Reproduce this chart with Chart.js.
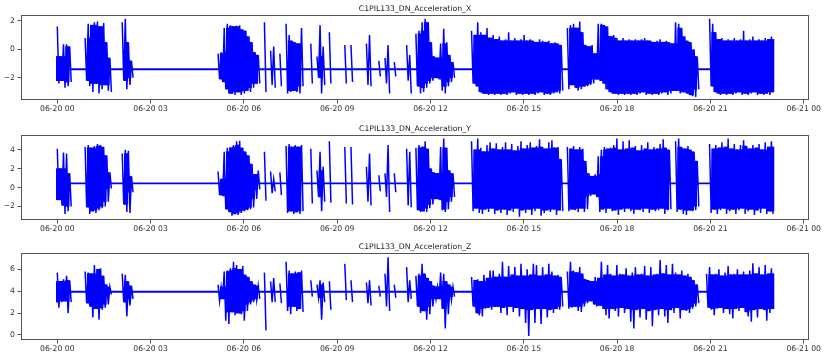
<!DOCTYPE html>
<html><head><meta charset="utf-8">
<script src="https://cdn.jsdelivr.net/npm/chart.js@4/dist/chart.umd.min.js"></script>
<style>
html,body{margin:0;padding:0;background:#fff;}
#wrap{position:relative;width:830px;height:358px;overflow:hidden;background:#fff;}
canvas{position:absolute;left:0;}
</style></head><body>
<div id="wrap">
<canvas id="c0" width="830" height="120" style="top:0px"></canvas>
<canvas id="c1" width="830" height="120" style="top:120px"></canvas>
<canvas id="c2" width="830" height="120" style="top:238px"></canvas>
</div>
<script>
// ---- data (hours after 06-20 00:00; each bin holds the high and low of the trace) ----
const titles = ["C1PIL133_DN_Acceleration_X", "C1PIL133_DN_Acceleration_Y", "C1PIL133_DN_Acceleration_Z"];
const tickHours = [0, 3, 6, 9, 12, 15, 18, 21, 24];
const tickLabels = ["06-20 00", "06-20 03", "06-20 06", "06-20 09", "06-20 12", "06-20 15", "06-20 18", "06-20 21", "06-21 00"];
const startHour = 0;
const binHours = 0.0994;
// resting level of each trace between bursts
const restLevels = [-1.4, 0.45, 3.95];

const xHi = [
 1.6,-0.5,0.35,0.35,0.2,-1.4,-1.4,-1.4,-1.4,0.8,
 1.8,1.7,1.9,1.95,1.6,1.85,0.5,-0.6,-1.4,-1.4,
 -1.4,1.9,2.15,0.5,-0.8,-1.4,-1.4,-1.4,-1.4,-1.4,
 -1.4,-1.4,-1.4,-1.4,-1.4,-1.4,-1.4,-1.4,-1.4,-1.4,
 -1.4,-1.4,-1.4,-1.4,-1.4,-1.4,-1.4,-1.4,-1.4,-1.4,
 -1.4,-1.4,-0.3,-0.2,1.5,1.8,1.7,1.6,1.65,1.7,
 1.4,1.3,0.9,0.5,-0.2,-0.4,-1.4,1.9,-1.4,-0.1,
 0.2,-1.4,-0.3,-1.4,1.8,1.0,0.6,0.5,0.4,1.5,
 -1.4,-1.4,0.4,-1.4,-0.5,1.7,0.2,-1.4,1.2,-1.4,
 -1.4,-1.4,-1.4,0.3,-1.4,0.3,-1.4,-1.4,-1.4,-1.4,
 0.4,1.0,-1.4,-1.4,-0.8,-1.4,-0.6,0.3,-1.4,-0.9,
 -1.4,-1.4,-1.4,0.3,-0.4,-1.4,1.1,1.3,1.9,2.15,
 1.9,0.5,-0.5,-0.6,0.4,1.45,0.5,-0.4,-0.9,-1.4,
 -1.4,-1.4,-1.4,-1.4,1.3,1.0,1.9,1.2,1.0,1.5,
 0.8,1.0,0.7,0.9,0.6,0.7,1.2,0.6,0.8,0.6,
 0.7,1.0,0.6,0.7,0.6,0.5,0.7,0.6,0.5,0.6,
 0.4,0.5,0.4,0.3,-1.4,1.5,1.7,1.8,1.5,1.95,
 1.2,0.3,0.2,0.3,-0.3,1.8,1.8,1.7,1.6,0.9,
 1.0,0.8,0.6,0.8,0.6,0.7,0.6,0.7,0.6,0.7,
 0.8,0.6,0.6,0.5,0.6,0.7,0.5,0.6,0.5,0.4,
 1.9,1.8,1.5,0.9,0.6,0.5,0.0,-0.5,-1.4,-1.4,
 -1.4,2.15,1.8,1.2,0.7,0.8,0.6,0.7,0.6,0.8,
 0.6,0.7,1.3,0.6,0.7,0.9,0.6,0.7,0.6,0.8,
 0.7,0.9
];
const xLo = [
 -2.4,-2.2,-2.7,-2.6,-2.3,-1.4,-1.4,-1.4,-1.4,-2.2,
 -2.6,-3.0,-2.4,-3.1,-2.8,-2.5,-2.9,-3.0,-1.4,-1.4,
 -1.4,-2.2,-2.8,-2.5,-2.0,-1.4,-1.4,-1.4,-1.4,-1.4,
 -1.4,-1.4,-1.4,-1.4,-1.4,-1.4,-1.4,-1.4,-1.4,-1.4,
 -1.4,-1.4,-1.4,-1.4,-1.4,-1.4,-1.4,-1.4,-1.4,-1.4,
 -1.4,-1.4,-2.1,-2.3,-2.8,-3.1,-3.1,-3.2,-3.0,-3.2,
 -3.1,-2.9,-3.0,-2.7,-2.4,-2.4,-1.4,-3.0,-1.4,-2.5,
 -2.7,-1.4,-2.6,-1.4,-3.1,-3.0,-2.9,-3.0,-3.1,-2.6,
 -1.4,-1.4,-2.4,-1.4,-2.0,-3.1,-2.5,-1.4,-2.4,-1.4,
 -1.4,-1.4,-1.4,-2.4,-1.4,-2.3,-1.4,-1.4,-1.4,-1.4,
 -2.5,-2.6,-1.4,-1.4,-1.9,-1.4,-2.4,-3.1,-1.4,-1.9,
 -1.4,-1.4,-1.4,-2.2,-3.1,-1.4,-2.6,-3.1,-3.0,-2.7,
 -2.4,-2.2,-2.0,-2.1,-2.9,-3.1,-2.6,-2.3,-2.0,-1.4,
 -1.4,-1.4,-1.4,-1.4,-2.4,-2.6,-3.0,-3.1,-3.1,-3.2,
 -3.1,-3.2,-3.1,-3.2,-3.1,-3.2,-3.1,-3.0,-3.2,-3.1,
 -3.2,-3.1,-3.2,-3.1,-3.2,-3.1,-3.0,-3.2,-3.1,-3.2,
 -3.1,-3.0,-3.1,-2.9,-1.4,-2.8,-2.5,-2.7,-2.9,-2.8,
 -2.6,-2.6,-2.5,-2.4,-2.1,-2.2,-2.4,-2.8,-3.0,-3.1,
 -3.1,-3.2,-3.1,-3.2,-3.1,-3.2,-3.1,-3.2,-3.1,-3.0,
 -3.2,-3.1,-3.2,-3.1,-3.2,-3.1,-3.0,-3.2,-3.1,-2.9,
 -2.9,-3.1,-3.0,-3.1,-3.2,-3.3,-3.35,-2.8,-1.4,-1.4,
 -1.4,-2.6,-3.0,-3.1,-3.2,-3.1,-3.2,-3.1,-3.2,-3.1,
 -3.0,-3.2,-3.1,-3.2,-3.1,-3.0,-3.2,-3.1,-3.2,-3.1,
 -3.2,-3.0
];

const yHi = [
 4.1,2.0,3.7,3.6,1.5,0.45,0.45,0.45,0.45,4.3,
 4.5,4.2,4.4,4.6,4.5,4.3,3.4,1.6,0.45,0.45,
 0.45,3.6,4.0,3.9,1.2,0.45,0.45,0.45,0.45,0.45,
 0.45,0.45,0.45,0.45,0.45,0.45,0.45,0.45,0.45,0.45,
 0.45,0.45,0.45,0.45,0.45,0.45,0.45,0.45,0.45,0.45,
 0.45,0.45,1.7,0.9,3.8,4.2,4.3,4.5,4.9,4.95,
 4.2,3.8,3.4,2.5,1.4,1.8,0.45,3.8,0.45,1.7,
 0.9,0.45,1.6,0.45,4.4,4.6,4.3,4.5,4.3,4.5,
 0.45,0.45,4.1,0.45,1.8,3.8,2.2,0.45,4.9,0.45,
 0.45,0.45,0.45,4.3,0.45,4.3,0.45,0.45,0.45,0.45,
 2.2,3.6,0.45,0.45,1.3,0.45,1.5,4.5,0.45,1.5,
 0.45,0.45,0.45,4.1,3.8,0.45,4.2,4.5,4.3,4.9,
 4.1,2.0,1.6,1.5,4.3,5.2,4.2,1.8,1.5,0.45,
 0.45,0.45,0.45,0.45,4.9,4.0,5.2,4.2,3.8,4.5,
 4.8,4.1,4.7,4.0,4.3,4.8,4.0,4.6,3.9,4.4,
 4.9,4.1,4.5,4.8,4.2,4.4,5.1,4.3,4.1,4.8,
 5.0,4.2,4.3,3.0,0.45,4.3,4.1,4.4,4.0,4.3,
 4.1,2.8,1.5,1.2,1.4,3.3,4.0,4.3,4.1,4.2,
 4.5,5.2,4.0,4.9,4.1,5.0,4.2,4.4,3.9,4.5,
 4.1,4.8,4.0,4.3,4.1,4.6,5.1,4.2,4.0,0.45,
 4.9,5.2,4.3,4.1,4.4,4.0,3.8,2.8,0.45,0.45,
 0.45,4.6,4.1,4.5,4.2,4.8,4.3,5.2,4.1,4.6,
 4.0,4.5,5.0,4.4,4.1,4.5,4.2,4.6,4.0,4.8,
 4.3,4.9
];
const yLo = [
 -1.3,-1.9,-2.8,-2.5,-2.0,0.45,0.45,0.45,0.45,-2.1,
 -2.8,-2.5,-2.7,-2.4,-2.2,-2.0,-1.5,-0.1,0.45,0.45,
 0.45,-1.8,-2.6,-2.7,-0.5,0.45,0.45,0.45,0.45,0.45,
 0.45,0.45,0.45,0.45,0.45,0.45,0.45,0.45,0.45,0.45,
 0.45,0.45,0.45,0.45,0.45,0.45,0.45,0.45,0.45,0.45,
 0.45,0.45,-0.8,-0.9,-2.3,-2.6,-3.0,-2.8,-2.9,-2.7,
 -2.5,-2.4,-2.3,-2.1,-1.2,-0.2,0.45,-1.4,0.45,-0.6,
 -0.4,0.45,-0.8,0.45,-2.7,-2.5,-2.8,-2.6,-2.8,-2.5,
 0.45,0.45,-1.7,0.45,-1.0,-2.5,-1.5,0.45,-1.6,0.45,
 0.45,0.45,0.45,-1.7,0.45,-1.8,0.45,0.45,0.45,0.45,
 -1.5,-1.9,0.45,0.45,-0.4,0.45,-1.0,-2.6,0.45,-0.5,
 0.45,0.45,0.45,-1.9,-2.1,0.45,-2.4,-2.6,-2.5,-2.6,
 -2.2,-1.8,-1.2,-1.3,-2.4,-2.6,-2.3,-1.5,-1.0,0.45,
 0.45,0.45,0.45,0.45,-2.5,-2.2,-2.7,-2.8,-2.3,-2.6,
 -2.2,-2.8,-2.4,-2.7,-2.3,-2.9,-2.4,-2.6,-2.2,-3.1,
 -2.4,-2.7,-2.3,-2.9,-2.5,-2.2,-3.0,-2.7,-2.4,-2.6,
 -2.3,-2.9,-2.4,-2.5,0.45,-2.5,-2.3,-2.4,-2.6,-2.2,
 -2.6,-2.3,-0.9,-0.7,-1.0,-2.6,-2.3,-2.7,-2.2,-2.5,
 -2.4,-2.9,-2.3,-2.6,-2.2,-2.5,-2.8,-2.3,-2.4,-2.6,
 -2.2,-2.7,-2.3,-2.5,-2.4,-2.2,-2.8,-2.4,-2.3,0.45,
 -2.6,-2.3,-2.8,-2.9,-2.4,-2.5,-2.4,-2.0,0.45,0.45,
 0.45,-2.7,-2.3,-2.8,-2.4,-2.2,-2.8,-2.5,-2.3,-2.8,
 -2.4,-2.2,-2.8,-2.5,-2.3,-2.9,-2.4,-2.7,-2.2,-2.8,
 -2.5,-2.8
];

const zHi = [
 5.7,4.9,5.1,5.4,5.0,3.95,3.95,3.95,3.95,5.8,
 5.7,5.6,6.4,6.0,6.1,5.4,4.6,4.4,3.95,3.95,
 3.95,5.6,5.5,4.9,4.5,3.95,3.95,3.95,3.95,3.95,
 3.95,3.95,3.95,3.95,3.95,3.95,3.95,3.95,3.95,3.95,
 3.95,3.95,3.95,3.95,3.95,3.95,3.95,3.95,3.95,3.95,
 3.95,3.95,4.6,4.4,5.8,5.9,6.1,6.7,6.4,6.0,
 6.3,5.5,5.3,4.9,4.6,4.5,3.95,5.7,3.95,4.9,
 5.2,3.95,4.7,3.95,6.7,5.9,5.6,5.8,5.7,5.9,
 3.95,3.95,5.0,3.95,4.6,5.0,4.8,3.95,4.9,3.95,
 3.95,3.95,3.95,6.5,3.95,5.0,3.95,3.95,3.95,3.95,
 4.8,5.0,3.95,3.95,4.5,3.95,5.6,7.1,3.95,4.6,
 3.95,3.95,3.95,6.2,5.0,3.95,5.4,5.6,6.5,5.6,
 5.2,4.9,4.5,4.4,5.7,5.6,4.9,4.6,4.4,3.95,
 3.95,3.95,3.95,3.95,5.3,5.0,5.1,4.9,5.5,5.2,
 5.9,5.9,5.3,5.6,6.7,5.3,6.3,5.5,6.2,5.4,
 6.5,5.4,6.0,5.5,6.5,6.4,5.4,6.2,5.5,6.5,
 5.8,5.4,5.5,5.3,3.95,5.8,6.7,5.9,5.7,6.2,
 5.6,5.1,5.0,4.9,5.3,5.2,6.7,5.5,6.4,5.6,
 5.4,6.4,5.6,5.5,6.1,5.4,5.7,6.2,5.5,5.6,
 6.3,5.4,6.2,5.5,5.6,6.85,5.6,6.4,5.5,6.5,
 5.7,5.5,5.9,5.4,5.6,5.3,5.0,4.6,3.95,3.95,
 5.6,6.2,5.5,5.6,6.0,5.4,5.7,6.3,5.5,5.6,
 6.0,5.5,5.8,5.5,5.9,6.55,5.6,6.2,5.5,6.4,
 5.6,6.1
];
const zLo = [
 2.5,3.0,3.1,2.0,3.0,3.95,3.95,3.95,3.95,2.9,
 2.6,1.6,2.4,1.4,2.3,2.5,2.8,3.7,3.95,3.95,
 3.95,3.0,1.7,2.7,3.3,3.95,3.95,3.95,3.95,3.95,
 3.95,3.95,3.95,3.95,3.95,3.95,3.95,3.95,3.95,3.95,
 3.95,3.95,3.95,3.95,3.95,3.95,3.95,3.95,3.95,3.95,
 3.95,3.95,3.1,3.3,1.3,1.0,2.1,1.8,2.0,1.9,
 1.3,2.2,2.8,3.0,3.2,3.3,3.95,0.4,3.95,3.0,
 3.0,3.95,2.9,3.95,2.2,1.9,2.6,2.2,2.4,2.1,
 3.95,3.95,3.5,3.95,3.4,1.4,3.0,3.95,2.3,3.95,
 3.95,3.95,3.95,3.2,3.95,3.0,3.95,3.95,3.95,3.95,
 2.9,2.7,3.95,3.95,3.5,3.95,2.6,2.2,3.95,3.4,
 3.95,3.95,3.95,3.0,3.3,3.95,2.6,2.0,2.2,1.4,
 1.9,2.6,3.3,3.3,2.4,0.6,1.9,3.2,3.5,3.95,
 3.95,3.95,3.95,3.95,2.6,2.0,1.8,1.7,2.4,2.5,
 2.3,2.6,2.6,2.0,2.5,1.8,2.6,2.1,2.5,1.7,
 2.4,1.1,-0.1,2.3,1.1,2.4,1.0,2.4,1.6,2.3,
 2.0,2.4,2.3,2.6,3.95,2.4,2.5,2.6,2.2,2.1,
 2.6,2.9,3.1,2.8,2.6,2.7,2.4,1.8,1.5,2.4,
 2.2,1.7,2.5,2.0,2.4,1.2,0.6,2.3,1.6,2.4,
 1.4,2.2,0.8,2.3,1.8,2.4,1.7,1.1,2.3,2.0,
 2.5,1.5,2.3,2.2,2.0,2.4,2.6,2.9,3.95,3.95,
 2.5,2.3,1.8,2.4,2.5,2.0,2.4,1.9,1.5,2.4,
 2.2,2.5,2.1,1.7,1.2,2.3,1.6,2.4,2.3,1.3,
 2.0,2.4
];

// ---- chart setup ----
const X_MIN = -1.167, X_MAX = 24.17;
const panels = [
  {id: 'c0', title: titles[0], hi: xHi, lo: xLo, rest: restLevels[0], yMin: -3.56, yMax: 2.41, yTicks: [-2, 0, 2], axisH: 20},
  {id: 'c1', title: titles[1], hi: yHi, lo: yLo, rest: restLevels[1], yMin: -3.44, yMax: 5.56, yTicks: [-2, 0, 2, 4], axisH: 20},
  {id: 'c2', title: titles[2], hi: zHi, lo: zLo, rest: restLevels[2], yMin: -0.46, yMax: 7.49, yTicks: [0, 2, 4, 6], axisH: 18}
];

// active trace: runs from each bin's high to its low; quiet bins break the line
function buildTrace(hi, lo) {
  const pts = [];
  for (let i = 0; i < hi.length; i++) {
    const t = startHour + i * binHours;
    const quiet = hi[i] === lo[i];
    pts.push({x: t, y: quiet ? null : hi[i]});
    pts.push({x: t + binHours / 2, y: quiet ? null : lo[i]});
  }
  return pts;
}
// resting line across the whole record
function buildRest(level, n) {
  return [{x: startHour, y: level}, {x: startHour + (n - 0.5) * binHours, y: level}];
}
// dense core of the trace: range shared by a bin and its neighbours (floating bars)
function buildCore(hi, lo) {
  const out = [], n = hi.length;
  for (let i = 0; i < n; i++) {
    const a = Math.max(lo[Math.max(i - 1, 0)], lo[i], lo[Math.min(i + 1, n - 1)]);
    const b = Math.min(hi[Math.max(i - 1, 0)], hi[i], hi[Math.min(i + 1, n - 1)]);
    if (b > a) out.push({x: startHour + (i + 0.25) * binHours, y: [a, b]});
  }
  return out;
}

const frame = {
  id: 'frame',
  afterDraw(chart) {
    const a = chart.chartArea, c = chart.ctx;
    c.save();
    c.strokeStyle = '#555';
    c.lineWidth = 1;
    c.strokeRect(Math.round(a.left) + 0.5, Math.round(a.top) + 0.5,
                 Math.round(a.right - a.left) - 1, Math.round(a.bottom - a.top) - 1);
    c.restore();
  }
};

const FONT = 'DejaVu Sans';
const BLUE = '#0000ff';
const fmt = v => (v < 0 ? '\u2212' : '') + Math.abs(v);

panels.forEach(p => {
  new Chart(document.getElementById(p.id), {
    type: 'line',
    data: {datasets: [
      {
        type: 'line', order: 0,
        data: buildTrace(p.hi, p.lo),
        borderColor: BLUE, borderWidth: 1.5,
        pointRadius: 0, tension: 0, fill: false, spanGaps: false
      },
      {
        type: 'line', order: 1,
        data: buildRest(p.rest, p.hi.length),
        borderColor: BLUE, borderWidth: 1.8,
        pointRadius: 0, tension: 0, fill: false
      },
      {
        type: 'bar', order: 2,
        data: buildCore(p.hi, p.lo),
        backgroundColor: BLUE, borderWidth: 0,
        barThickness: 3.5, grouped: false
      }
    ]},
    options: {
      responsive: false,
      animation: false,
      events: [],
      layout: {padding: {left: 0, right: 21, top: 0, bottom: 0}},
      plugins: {
        legend: {display: false},
        tooltip: {enabled: false},
        title: {
          display: true, text: p.title, fullSize: false,
          color: '#222', font: {family: FONT, size: 7.7, weight: 'normal'},
          padding: {top: 4.4, bottom: 1.4}
        }
      },
      scales: {
        x: {
          type: 'linear', min: X_MIN, max: X_MAX, offset: false,
          afterBuildTicks: ax => { ax.ticks = tickHours.map(v => ({value: v})); },
          afterFit: ax => { ax.height = p.axisH; },
          ticks: {
            autoSkip: false, maxRotation: 0, minRotation: 0,
            color: '#333', font: {family: FONT, size: 7.7}, padding: 1,
            callback: (v, i) => tickLabels[i]
          },
          grid: {display: true, drawOnChartArea: false, drawTicks: true, tickLength: 3.5, color: '#555', offset: false},
          border: {display: false}
        },
        y: {
          type: 'linear', min: p.yMin, max: p.yMax,
          afterBuildTicks: ax => { ax.ticks = p.yTicks.map(v => ({value: v})); },
          afterFit: ax => { ax.width = 21; },
          ticks: {
            color: '#333', font: {family: FONT, size: 7.7}, padding: 2.5,
            callback: v => fmt(v)
          },
          grid: {display: true, drawOnChartArea: false, drawTicks: true, tickLength: 3.5, color: '#555'},
          border: {display: false}
        }
      }
    },
    plugins: [frame]
  });
});
</script>
</body></html>
